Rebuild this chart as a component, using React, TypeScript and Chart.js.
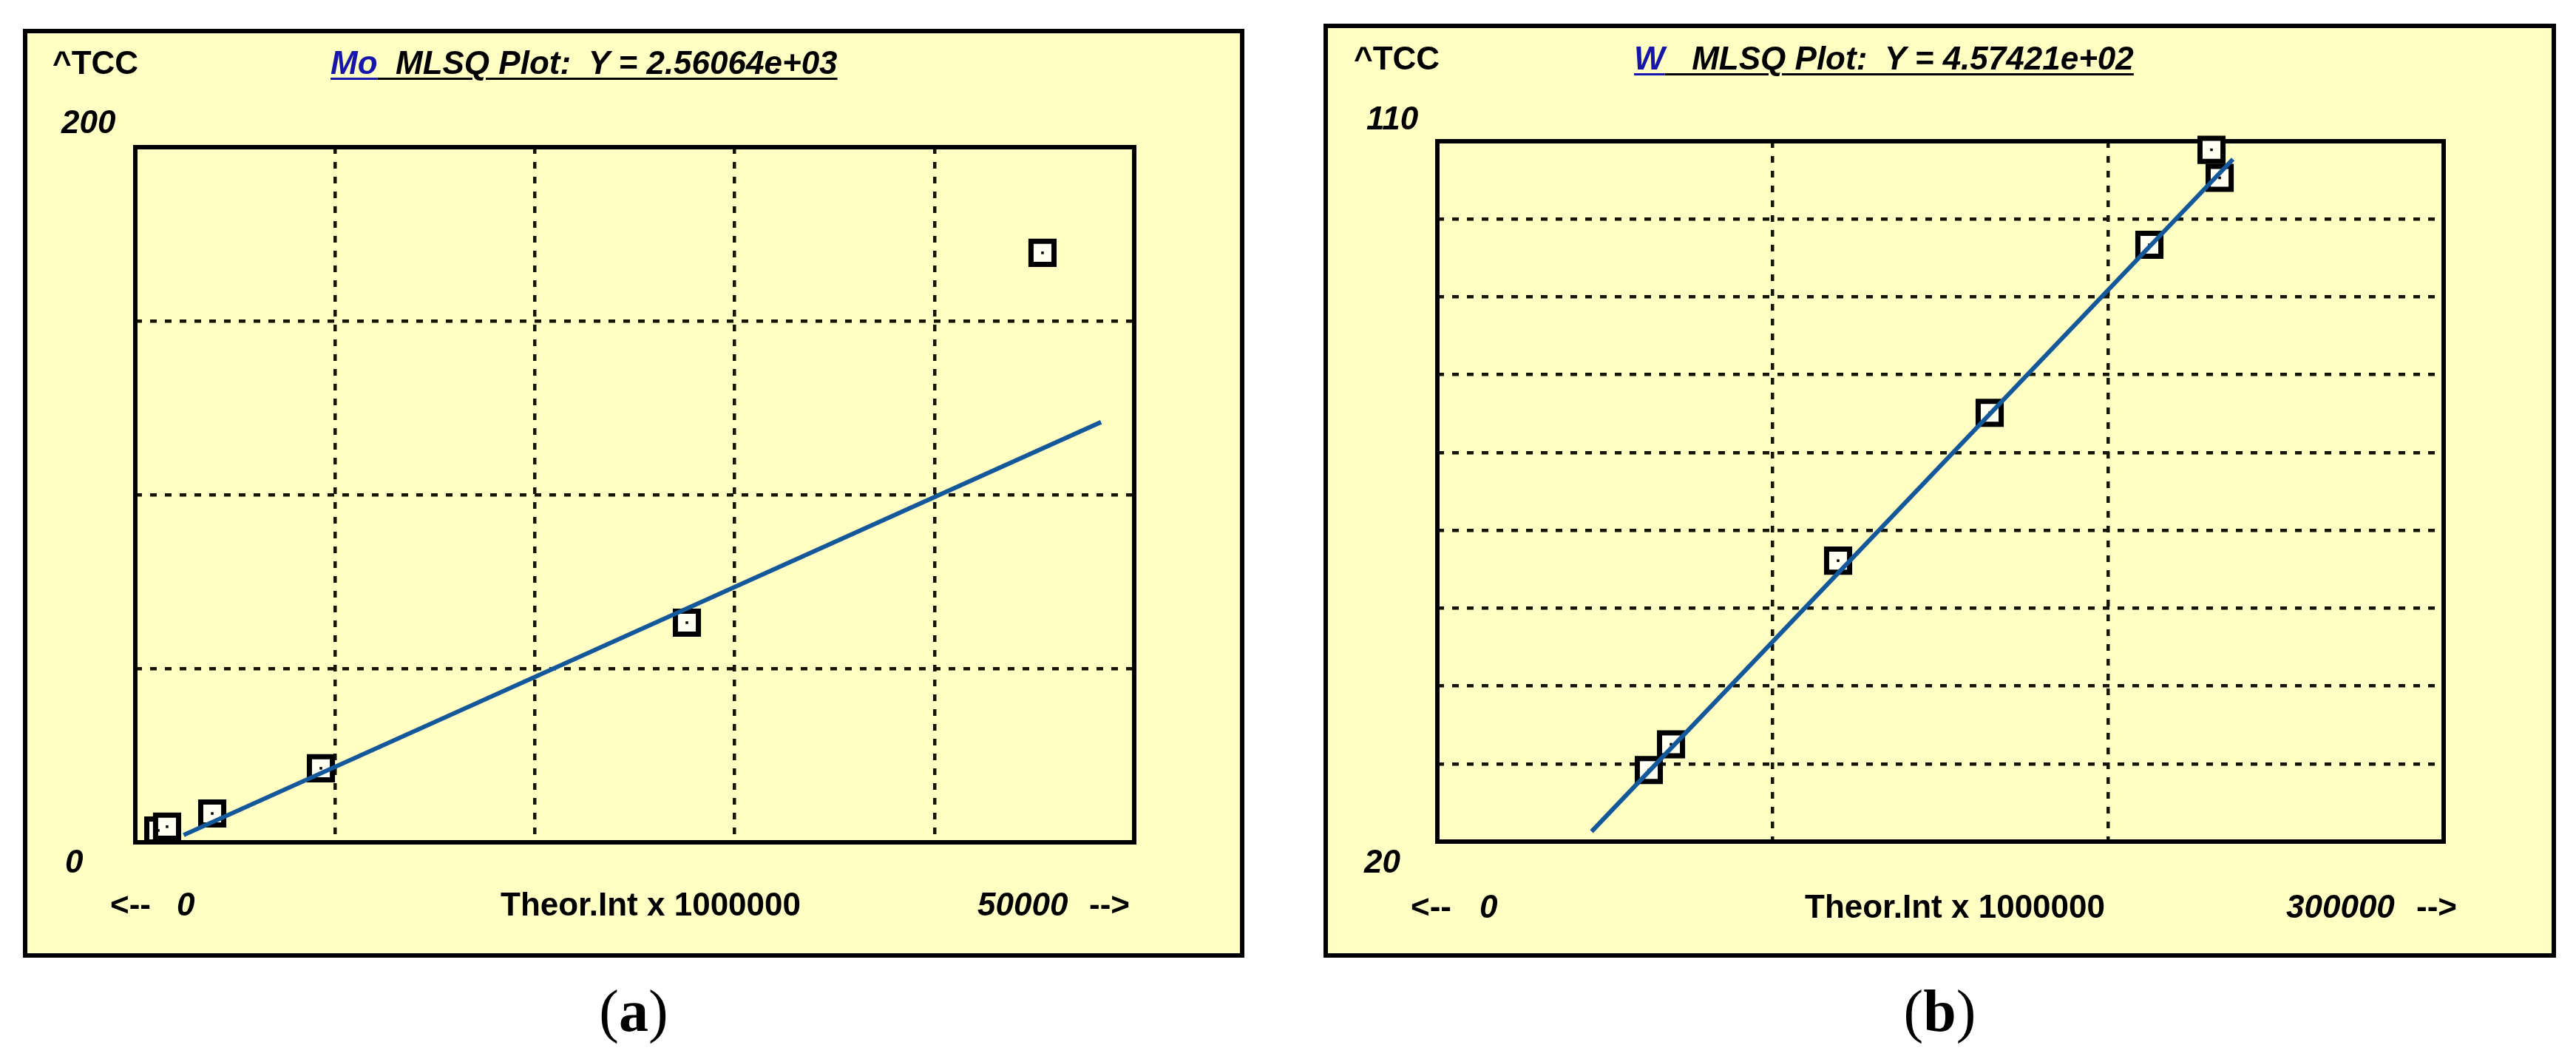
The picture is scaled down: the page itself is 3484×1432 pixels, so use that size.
import React, { useEffect, useRef } from 'react';
import { Chart, registerables } from 'chart.js';

Chart.register(...registerables);

// ---------- Panel (a): Mo ----------
const moTheorInt = [1150, 1590, 3850, 9290, 27610, 45410];
const moTcc = [3.4, 4.5, 8.3, 21.3, 63.2, 169.6];
const moFitX = [2420, 48340];
const moFitY = [2.1, 120.9];
const moXRange = [0, 50000];
const moYRange = [0, 200];
const moXStep = 10000;
const moYStep = 50;
const moXLabels = ['0', '50000'];
const moYLabels = ['0', '200'];
const moTitle = ['Mo', '  MLSQ Plot:  Y = 2.56064e+03'];

// ---------- Panel (b): W ----------
const wTheorInt = [63040, 69660, 119470, 164660, 212270, 230790, 233220];
const wTcc = [29.2, 32.5, 56.1, 75.1, 96.7, 108.9, 105.3];
const wFitX = [45980, 237180];
const wFitY = [21.3, 107.7];
const wXRange = [0, 300000];
const wYRange = [20, 110];
const wXStep = 100000;
const wYStep = 10;
const wXLabels = ['0', '300000'];
const wYLabels = ['20', '110'];
const wTitle = ['W', '   MLSQ Plot:  Y = 4.57421e+02'];

const yAxisName = '^TCC';
const xAxisName = 'Theor.Int x 1000000';
const captions = ['a', 'b'];

const BG = '#ffffc4';
const GRID = '#151505';
const LINE = '#14589c';
const FONT = '"Liberation Sans", Arial, sans-serif';

const framePlugin = {
  id: 'plotFrame',
  beforeDatasetsDraw(chart: any) {
    const { ctx, chartArea: a } = chart;
    ctx.save();
    ctx.strokeStyle = '#000';
    ctx.lineWidth = 6;
    ctx.setLineDash([]);
    ctx.strokeRect(a.left, a.top, a.right - a.left, a.bottom - a.top);
    ctx.restore();
  },
};

type Box = { left: number; top: number; width: number; height: number };
type Pad = { left: number; top: number; right: number; bottom: number };

function PlotCanvas(props: {
  box: Box;
  pad: Pad;
  xs: number[];
  ys: number[];
  fitX: number[];
  fitY: number[];
  xRange: number[];
  yRange: number[];
  xStep: number;
  yStep: number;
}) {
  const ref = useRef<HTMLCanvasElement>(null);
  const { box, pad, xs, ys, fitX, fitY, xRange, yRange, xStep, yStep } = props;
  useEffect(() => {
    const canvas = ref.current!;
    const pts = xs.map((x, i) => ({ x, y: ys[i] }));
    const fit = fitX.map((x, i) => ({ x, y: fitY[i] }));
    const chart = new Chart(canvas, {
      type: 'scatter',
      data: {
        datasets: [
          {
            data: fit,
            showLine: true,
            borderColor: LINE,
            borderWidth: 6,
            pointRadius: 0,
            fill: false,
            clip: false,
          } as any,
          {
            data: pts,
            pointStyle: 'rect',
            pointRadius: 2.5,
            backgroundColor: '#000',
            borderWidth: 0,
            clip: false,
          } as any,
          {
            data: pts,
            pointStyle: 'rect',
            pointRadius: 22,
            backgroundColor: '#fffff2',
            borderColor: '#000',
            borderWidth: 7,
            clip: false,
          } as any,
        ],
      },
      options: {
        responsive: false,
        animation: false,
        devicePixelRatio: 1,
        events: [],
        layout: { padding: pad, autoPadding: false } as any,
        plugins: {
          legend: { display: false },
          tooltip: { enabled: false },
          title: { display: false },
        },
        scales: {
          x: {
            type: 'linear',
            min: xRange[0],
            max: xRange[1],
            ticks: { display: false, stepSize: xStep },
            grid: { color: GRID, lineWidth: 4.5, drawTicks: false, tickLength: 0 },
            border: { display: false, dash: [9, 11] },
          },
          y: {
            type: 'linear',
            min: yRange[0],
            max: yRange[1],
            ticks: { display: false, stepSize: yStep },
            grid: { color: GRID, lineWidth: 4.5, drawTicks: false, tickLength: 0 },
            border: { display: false, dash: [9, 11] },
          },
        },
      } as any,
      plugins: [framePlugin],
    });
    return () => chart.destroy();
  }, []);
  return (
    <canvas
      ref={ref}
      width={box.width}
      height={box.height}
      style={{ position: 'absolute', left: box.left, top: box.top, width: box.width, height: box.height }}
    />
  );
}

function Label(props: {
  x: number;
  baseline: number;
  size?: number;
  bold?: boolean;
  italic?: boolean;
  color?: string;
  children: React.ReactNode;
}) {
  const size = props.size ?? 44;
  return (
    <div
      style={{
        position: 'absolute',
        left: props.x,
        top: props.baseline - 0.8465 * size,
        fontSize: size,
        lineHeight: `${size}px`,
        fontWeight: props.bold === false ? 400 : 700,
        fontStyle: props.italic ? 'italic' : 'normal',
        color: props.color ?? '#000',
        whiteSpace: 'pre',
        fontFamily: FONT,
      }}
    >
      {props.children}
    </div>
  );
}

const ul = { textDecoration: 'underline', textDecorationThickness: '3px', textUnderlineOffset: '5px' } as any;

type PanelSpec = {
  box: Box;
  plot: Pad; // absolute plot area coords: left, top, right, bottom
  xs: number[];
  ys: number[];
  fitX: number[];
  fitY: number[];
  xRange: number[];
  yRange: number[];
  xStep: number;
  yStep: number;
  title: string[];
  xLabels: string[];
  yLabels: string[];
  t: {
    tccX: number; topBase: number; titleX: number;
    yMaxX: number; yMaxBase: number; yMinX: number; yMinBase: number;
    arrowLX: number; xMinX: number; nameX: number; xMaxX: number; arrowRX: number; xBase: number;
  };
  caption: string;
};

function Panel({ s }: { s: PanelSpec }) {
  const pad = {
    left: s.plot.left - s.box.left,
    top: s.plot.top - s.box.top,
    right: s.box.left + s.box.width - s.plot.right,
    bottom: s.box.top + s.box.height - s.plot.bottom,
  };
  const t = s.t;
  const cx = s.box.left + s.box.width / 2;
  return (
    <>
      <div
        style={{
          position: 'absolute',
          left: s.box.left,
          top: s.box.top,
          width: s.box.width,
          height: s.box.height,
          boxSizing: 'border-box',
          border: '6px solid #000',
          background: BG,
        }}
      />
      <PlotCanvas
        box={s.box}
        pad={pad}
        xs={s.xs}
        ys={s.ys}
        fitX={s.fitX}
        fitY={s.fitY}
        xRange={s.xRange}
        yRange={s.yRange}
        xStep={s.xStep}
        yStep={s.yStep}
      />
      <Label x={t.tccX} baseline={t.topBase}>{yAxisName}</Label>
      <Label x={t.titleX} baseline={t.topBase} italic>
        <span style={{ ...ul, color: '#1616ac' }}>{s.title[0]}</span>
        <span style={ul}>{s.title[1]}</span>
      </Label>
      <Label x={t.yMaxX} baseline={t.yMaxBase} italic>{s.yLabels[1]}</Label>
      <Label x={t.yMinX} baseline={t.yMinBase} italic>{s.yLabels[0]}</Label>
      <Label x={t.arrowLX} baseline={t.xBase}>{'<--'}</Label>
      <Label x={t.xMinX} baseline={t.xBase} italic>{s.xLabels[0]}</Label>
      <Label x={t.nameX} baseline={t.xBase}>{xAxisName}</Label>
      <Label x={t.xMaxX} baseline={t.xBase} italic>{s.xLabels[1]}</Label>
      <Label x={t.arrowRX} baseline={t.xBase}>{'-->'}</Label>
      <div
        style={{
          position: 'absolute',
          left: cx - 200,
          width: 400,
          top: 1394 - 0.8375 * 80,
          fontSize: 80,
          lineHeight: '80px',
          textAlign: 'center',
          fontFamily: '"Liberation Serif", "Times New Roman", serif',
          color: '#000',
        }}
      >
        (<b>{s.caption}</b>)
      </div>
    </>
  );
}

const panelA: PanelSpec = {
  box: { left: 31, top: 39, width: 1652, height: 1256 },
  plot: { left: 183, top: 199, right: 1534, bottom: 1139 },
  xs: moTheorInt,
  ys: moTcc,
  fitX: moFitX,
  fitY: moFitY,
  xRange: moXRange,
  yRange: moYRange,
  xStep: moXStep,
  yStep: moYStep,
  title: moTitle,
  xLabels: moXLabels,
  yLabels: moYLabels,
  t: {
    tccX: 71, topBase: 100, titleX: 447,
    yMaxX: 83, yMaxBase: 180, yMinX: 88, yMinBase: 1180,
    arrowLX: 149, xMinX: 239, nameX: 677, xMaxX: 1322, arrowRX: 1473, xBase: 1238,
  },
  caption: captions[0],
};

const panelB: PanelSpec = {
  box: { left: 1790, top: 32, width: 1667, height: 1263 },
  plot: { left: 1944, top: 191, right: 3305, bottom: 1138 },
  xs: wTheorInt,
  ys: wTcc,
  fitX: wFitX,
  fitY: wFitY,
  xRange: wXRange,
  yRange: wYRange,
  xStep: wXStep,
  yStep: wYStep,
  title: wTitle,
  xLabels: wXLabels,
  yLabels: wYLabels,
  t: {
    tccX: 1831, topBase: 94, titleX: 2210,
    yMaxX: 1848, yMaxBase: 175, yMinX: 1845, yMinBase: 1180,
    arrowLX: 1908, xMinX: 2001, nameX: 2441, xMaxX: 3092, arrowRX: 3268, xBase: 1241,
  },
  caption: captions[1],
};

export default function App() {
  return (
    <div
      style={{
        position: 'absolute',
        left: 0,
        top: 0,
        width: 3484,
        height: 1432,
        background: '#fff',
        overflow: 'hidden',
        fontFamily: FONT,
      }}
    >
      <Panel s={panelA} />
      <Panel s={panelB} />
    </div>
  );
}
